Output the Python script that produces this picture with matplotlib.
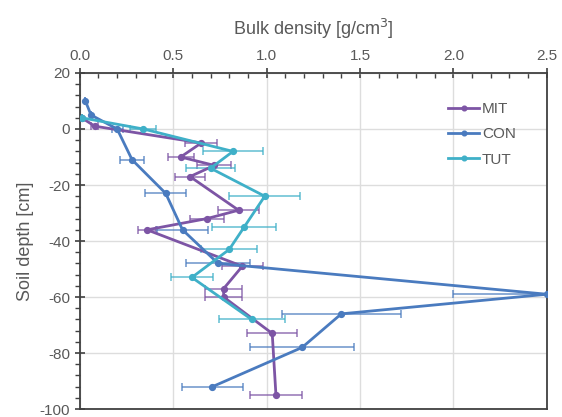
import matplotlib.pyplot as plt
from matplotlib.ticker import MultipleLocator

plt.rcParams['font.family'] = ['Liberation Sans', 'DejaVu Sans']
plt.rcParams['axes.unicode_minus'] = False

# 데이터: 깊이 [cm], 용적밀도 [g/cm3], 오차
mit_depth = [4, 1, -5, -10, -13, -17, -29, -32, -36, -49, -57, -60, -73, -95]
mit_bd = [0.01, 0.08, 0.65, 0.54, 0.72, 0.59, 0.85, 0.68, 0.36, 0.87, 0.77, 0.77, 1.03, 1.05]
mit_err = [0.0, 0.02, 0.085, 0.07, 0.09, 0.078, 0.11, 0.09, 0.05, 0.11, 0.1, 0.1, 0.135, 0.14]

con_depth = [10, 5, 0, -11, -23, -36, -48, -59, -66, -78, -92]
con_bd = [0.03, 0.06, 0.2, 0.28, 0.46, 0.55, 0.74, 2.5, 1.40, 1.19, 0.71]
con_err = [0.0, 0.0, 0.03, 0.065, 0.11, 0.135, 0.17, 0.5, 0.32, 0.28, 0.165]

tut_depth = [4, 0, -8, -14, -24, -35, -43, -53, -68]
tut_bd = [0.01, 0.34, 0.82, 0.70, 0.99, 0.88, 0.80, 0.60, 0.92]
tut_err = [0.0, 0.07, 0.16, 0.13, 0.19, 0.17, 0.15, 0.114, 0.177]

names = ['MIT', 'CON', 'TUT']
colors = ['#7d55a5', '#4a7bbf', '#3fb0c8']

fig = plt.figure(figsize=(5.62, 4.17), dpi=100)
ax = fig.add_axes([0.142, 0.019, 0.831, 0.806])

series = [(mit_bd, mit_depth, mit_err), (con_bd, con_depth, con_err), (tut_bd, tut_depth, tut_err)]
for (x, y, e), name, c in zip(series, names, colors):
    # 오차막대는 연하게
    ax.errorbar(x, y, xerr=e, fmt='none', ecolor=c, elinewidth=1.2, capsize=3,
                capthick=1.2, alpha=0.75, zorder=2)
    ax.plot(x, y, color=c, linewidth=2, marker='o', markersize=4.2, label=name, zorder=3)

ax.set_xlim(0, 2.5)
ax.set_ylim(-100, 20)
ax.xaxis.tick_top()
ax.xaxis.set_label_position('top')
ax.xaxis.set_major_locator(MultipleLocator(0.5))
ax.xaxis.set_minor_locator(MultipleLocator(0.1))
ax.yaxis.set_major_locator(MultipleLocator(20))
ax.yaxis.set_minor_locator(MultipleLocator(4))
ax.xaxis.set_major_formatter(lambda v, p: f'{v:.1f}')

ax.set_xlabel('Bulk density [g/cm$^3$]', fontsize=13, color='#595959', labelpad=10)
ax.set_ylabel('Soil depth [cm]', fontsize=13, color='#595959', labelpad=4)

ax.tick_params(which='major', direction='inout', length=7, width=1.2, colors='#404040',
               labelcolor='#595959', labelsize=11)
ax.tick_params(which='minor', direction='out', length=3.5, width=1.0, colors='#404040')
ax.tick_params(axis='x', which='minor', direction='in')

ax.grid(True, which='major', color='#dddddd', linewidth=1)
ax.set_axisbelow(True)
for s in ax.spines.values():
    s.set_color('#404040')
    s.set_linewidth(1.3)

ax.legend(loc='upper left', bbox_to_anchor=(0.76, 0.955), frameon=False, fontsize=11,
          labelspacing=0.75, handlelength=2.0, handletextpad=0.2, labelcolor='#595959',
          markerscale=0.8)

plt.savefig('out.png')
